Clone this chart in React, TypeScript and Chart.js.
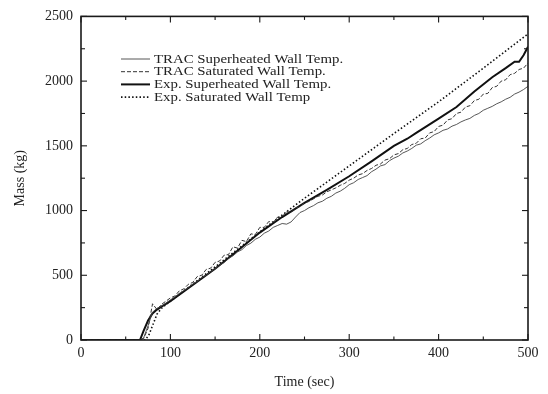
import React, { useEffect, useRef } from "react";
import { Chart, registerables } from "chart.js";

Chart.register(...registerables);

// ---- Data ----
const tracTime = [0, 60, 65, 70, 75, 80, 85, 90, 95, 100, 105, 110, 115, 120, 125, 130, 135, 140, 145, 150, 155, 160, 165, 170, 175, 180, 185, 190, 195, 200, 205, 210, 215, 220, 225, 230, 235, 240, 245, 250, 255, 260, 265, 270, 275, 280, 285, 290, 295, 300, 305, 310, 315, 320, 325, 330, 335, 340, 345, 350, 355, 360, 365, 370, 375, 380, 385, 390, 395, 400, 405, 410, 415, 420, 425, 430, 435, 440, 445, 450, 455, 460, 465, 470, 475, 480, 485, 490, 495, 500];

const tracSuperheated = [0, 0, 0, 15, 110, 215, 245, 262, 285, 310, 332, 360, 382, 405, 432, 452, 482, 500, 528, 550, 578, 598, 630, 650, 680, 698, 730, 748, 778, 795, 825, 842, 870, 885, 900, 895, 912, 950, 985, 1000, 1022, 1038, 1060, 1072, 1095, 1110, 1135, 1150, 1172, 1200, 1215, 1240, 1255, 1270, 1300, 1320, 1345, 1355, 1385, 1405, 1420, 1445, 1460, 1480, 1505, 1515, 1540, 1560, 1585, 1600, 1620, 1630, 1652, 1665, 1685, 1700, 1712, 1735, 1750, 1775, 1790, 1805, 1825, 1840, 1860, 1875, 1900, 1915, 1935, 1960];

const tracSaturated = [0, 0, 0, 10, 90, 280, 235, 275, 300, 325, 340, 380, 395, 430, 445, 490, 500, 545, 555, 600, 610, 655, 660, 720, 710, 770, 760, 820, 815, 870, 870, 915, 910, 950, 955, 990, 985, 1020, 1030, 1060, 1070, 1090, 1110, 1120, 1145, 1160, 1175, 1195, 1210, 1235, 1250, 1275, 1285, 1310, 1325, 1350, 1360, 1390, 1400, 1430, 1440, 1470, 1480, 1510, 1520, 1555, 1560, 1600, 1610, 1650, 1660, 1700, 1710, 1750, 1760, 1800, 1810, 1850, 1860, 1900, 1905, 1950, 1960, 2000, 2010, 2050, 2060, 2090, 2100, 2140];

const expSupTime = [0, 66, 70, 75, 80, 85, 90, 100, 120, 150, 175, 200, 225, 250, 275, 300, 325, 350, 365, 375, 400, 420, 440, 460, 475, 485, 490, 495, 500];
const expSuperheated = [0, 0, 70, 150, 205, 235, 258, 300, 400, 550, 690, 830, 950, 1060, 1160, 1265, 1380, 1500, 1555, 1600, 1710, 1800, 1920, 2030, 2100, 2150, 2150, 2200, 2265];

const expSatTime = [0, 72, 76, 80, 85, 90, 100, 150, 200, 250, 300, 350, 400, 450, 500];
const expSaturated = [0, 0, 40, 110, 200, 245, 300, 565, 835, 1095, 1345, 1595, 1840, 2100, 2365];

const seriesLabels = [
  "TRAC Superheated Wall Temp.",
  "TRAC Saturated Wall Temp.",
  "Exp. Superheated Wall Temp.",
  "Exp. Saturated Wall Temp",
];

const xMinorTicks = [50, 150, 250, 350, 450];
const yMinorTicks = [250, 750, 1250, 1750, 2250];

const FONT = "'Liberation Serif', 'Times New Roman', serif";

function pairs(xs: number[], ys: number[]) {
  return xs.map((x, i) => ({ x, y: ys[i] }));
}

const framePlugin = {
  id: "frameTicks",
  afterDatasetsDraw(chart: any) {
    const { ctx, chartArea, scales } = chart;
    const { left, right, top, bottom } = chartArea;
    const x = scales.x;
    const y = scales.y;
    ctx.save();
    ctx.strokeStyle = "#1a1a1a";
    ctx.lineWidth = 1.6;
    ctx.strokeRect(left, top, right - left, bottom - top);
    ctx.lineWidth = 1.1;
    const seg = (x1: number, y1: number, x2: number, y2: number) => {
      ctx.beginPath();
      ctx.moveTo(x1, y1);
      ctx.lineTo(x2, y2);
      ctx.stroke();
    };
    x.ticks.forEach((t: any) => {
      const px = x.getPixelForValue(t.value);
      seg(px, bottom, px, bottom - 6);
      seg(px, top, px, top + 6);
    });
    xMinorTicks.forEach((v) => {
      const px = x.getPixelForValue(v);
      seg(px, bottom, px, bottom - 3.5);
      seg(px, top, px, top + 3.5);
    });
    y.ticks.forEach((t: any) => {
      const py = y.getPixelForValue(t.value);
      seg(left, py, left + 6, py);
      seg(right, py, right - 6, py);
    });
    yMinorTicks.forEach((v) => {
      const py = y.getPixelForValue(v);
      seg(left, py, left + 4, py);
      seg(right, py, right - 4, py);
    });
    ctx.restore();
  },
};

const legendPlugin = {
  id: "customLegend",
  afterDraw(chart: any) {
    const { ctx } = chart;
    const x0 = 121;
    const x1 = 150;
    const tx = 154;
    const y0 = 59;
    const dy = 12.7;
    ctx.save();
    chart.data.datasets.forEach((ds: any, i: number) => {
      const yy = y0 + i * dy;
      ctx.strokeStyle = ds.borderColor;
      ctx.lineWidth = ds.borderWidth;
      ctx.setLineDash(ds.borderDash || []);
      ctx.beginPath();
      ctx.moveTo(x0, yy);
      ctx.lineTo(x1, yy);
      ctx.stroke();
      ctx.setLineDash([]);
      ctx.save();
      ctx.translate(tx, yy);
      ctx.scale(1.1, 1);
      ctx.fillStyle = "#222";
      ctx.font = `13.5px ${FONT}`;
      ctx.textBaseline = "middle";
      ctx.textAlign = "left";
      ctx.fillText(ds.label, 0, 0);
      ctx.restore();
    });
    ctx.restore();
  },
};

export default function App() {
  const canvasRef = useRef<HTMLCanvasElement | null>(null);

  useEffect(() => {
    document.body.style.margin = "0";
    const canvas = canvasRef.current;
    if (!canvas) return;
    const chart = new Chart(canvas, {
      type: "line",
      data: {
        datasets: [
          {
            label: seriesLabels[0],
            data: pairs(tracTime, tracSuperheated),
            borderColor: "#444",
            borderWidth: 0.9,
            pointRadius: 0,
            tension: 0,
          },
          {
            label: seriesLabels[1],
            data: pairs(tracTime, tracSaturated),
            borderColor: "#333",
            borderWidth: 1,
            borderDash: [4, 2],
            pointRadius: 0,
            tension: 0,
          },
          {
            label: seriesLabels[2],
            data: pairs(expSupTime, expSuperheated),
            borderColor: "#111",
            borderWidth: 2,
            pointRadius: 0,
            tension: 0,
          },
          {
            label: seriesLabels[3],
            data: pairs(expSatTime, expSaturated),
            borderColor: "#111",
            borderWidth: 1.6,
            borderDash: [1.5, 2.2],
            pointRadius: 0,
            tension: 0,
          },
        ],
      },
      options: {
        animation: false,
        responsive: false,
        events: [],
        layout: { padding: { top: 12, right: 20, left: 0, bottom: 0 } },
        plugins: {
          legend: { display: false },
          tooltip: { enabled: false },
        },
        scales: {
          x: {
            type: "linear",
            min: 0,
            max: 500,
            ticks: {
              stepSize: 100,
              color: "#222",
              font: { family: FONT, size: 14 },
              padding: 5,
              maxRotation: 0,
              callback: (v: any) => String(v),
            },
            grid: { display: false, drawTicks: false },
            border: { display: false },
            title: {
              display: true,
              text: "Time (sec)",
              color: "#222",
              font: { family: FONT, size: 14 },
              padding: { top: 0, bottom: 3 },
            },
            afterFit: (s: any) => {
              s.height = 54;
            },
          },
          y: {
            type: "linear",
            min: 0,
            max: 2500,
            ticks: {
              stepSize: 500,
              color: "#222",
              font: { family: FONT, size: 14 },
              padding: 8,
              callback: (v: any) => String(v),
            },
            grid: { display: false, drawTicks: false },
            border: { display: false },
            title: {
              display: true,
              text: "Mass (kg)",
              color: "#222",
              font: { family: FONT, size: 14 },
              padding: { top: 12, bottom: 0 },
            },
            afterFit: (s: any) => {
              s.width = 81;
            },
          },
        },
      },
      plugins: [framePlugin, legendPlugin],
    });
    return () => chart.destroy();
  }, []);

  return (
    <div style={{ width: 548, height: 394, background: "#fff" }}>
      <canvas ref={canvasRef} width={548} height={394} />
    </div>
  );
}
